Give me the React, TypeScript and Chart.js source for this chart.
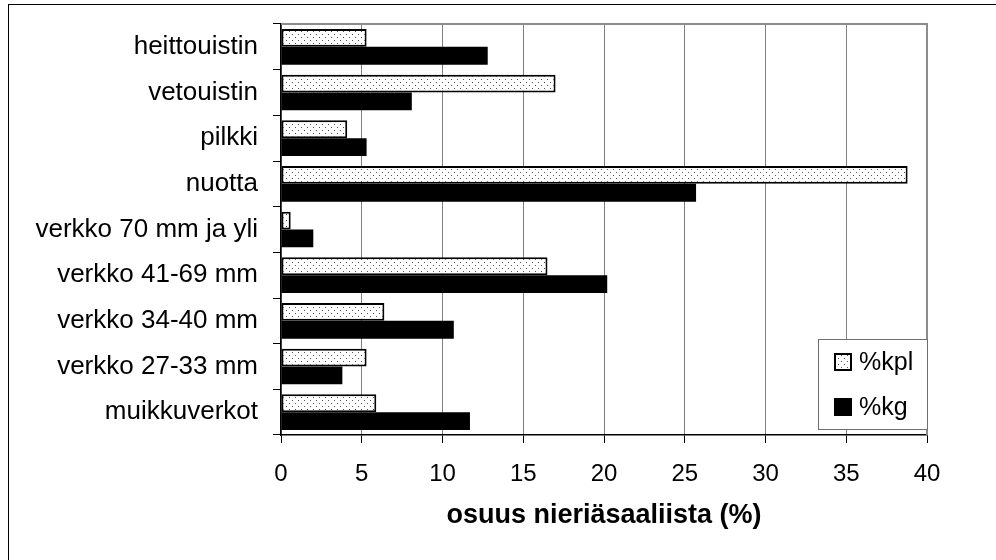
import React, { useEffect, useRef } from 'react';
import { Chart, registerables } from 'chart.js';

Chart.register(...registerables);

const categories = [
  'heittouistin',
  'vetouistin',
  'pilkki',
  'nuotta',
  'verkko 70 mm ja yli',
  'verkko 41-69 mm',
  'verkko 34-40 mm',
  'verkko 27-33 mm',
  'muikkuverkot',
];
const pctKpl = [5.3, 17.0, 4.1, 38.8, 0.6, 16.5, 6.4, 5.3, 5.9];
const pctKg = [12.8, 8.1, 5.3, 25.7, 2.0, 20.2, 10.7, 3.8, 11.7];
const seriesLabels = ['%kpl', '%kg'];
const xMin = 0;
const xMax = 40;
const xStep = 5;
const axisTitle = 'osuus nieriäsaaliista (%)';

const FAMILY = "'Liberation Sans', Arial, Helvetica, sans-serif";

function makeDotPattern(): CanvasPattern | string {
  const c = document.createElement('canvas');
  c.width = 6;
  c.height = 6;
  const g = c.getContext('2d');
  if (!g) return '#fff';
  g.fillStyle = '#fff';
  g.fillRect(0, 0, 6, 6);
  g.fillStyle = '#555';
  g.fillRect(1, 1, 1, 1);
  g.fillRect(4, 4, 1, 1);
  return g.createPattern(c, 'repeat') || '#fff';
}

export default function App() {
  const ref = useRef<HTMLCanvasElement | null>(null);

  useEffect(() => {
    const canvas = ref.current;
    if (!canvas) return;
    const pattern = makeDotPattern();

    const framePlugin = {
      id: 'frameAndLegend',
      beforeDraw(chart: any) {
        const { ctx, width, height } = chart;
        ctx.save();
        ctx.fillStyle = '#fff';
        ctx.fillRect(0, 0, width, height);
        ctx.strokeStyle = '#000';
        ctx.lineWidth = 1;
        ctx.strokeRect(8.5, 4.5, width + 20, height + 20);
        ctx.restore();
      },
      afterDraw(chart: any) {
        const { ctx, chartArea } = chart;
        ctx.save();
        // plot area top & right border
        ctx.strokeStyle = '#8c8c8c';
        ctx.lineWidth = 2;
        ctx.beginPath();
        ctx.moveTo(chartArea.left, chartArea.top);
        ctx.lineTo(chartArea.right, chartArea.top);
        ctx.lineTo(chartArea.right, chartArea.bottom);
        ctx.stroke();

        // legend
        const bw = 110;
        const bh = 91;
        const bx = chartArea.right - 109;
        const by = chartArea.bottom - 96;
        ctx.fillStyle = '#fff';
        ctx.fillRect(bx, by, bw, bh);
        ctx.strokeStyle = '#6e6e6e';
        ctx.lineWidth = 1;
        ctx.strokeRect(bx + 0.5, by + 0.5, bw - 1, bh - 1);

        const ds = chart.data.datasets;
        const sx = bx + 16;
        const rows = [by + 14, by + 59];
        ctx.font = `25px ${FAMILY}`;
        ctx.textBaseline = 'middle';
        ctx.textAlign = 'left';
        ds.forEach((d: any, i: number) => {
          const sy = rows[i];
          if (i === 0) {
            ctx.fillStyle = d.backgroundColor;
            ctx.fillRect(sx, sy, 18, 18);
            ctx.strokeStyle = '#000';
            ctx.lineWidth = 2;
            ctx.strokeRect(sx + 1, sy + 1, 16, 16);
          } else {
            ctx.fillStyle = '#000';
            ctx.fillRect(sx, sy, 18, 18);
          }
          ctx.fillStyle = '#000';
          ctx.fillText(d.label, sx + 25, sy + 10);
        });
        ctx.restore();
      },
    };

    const chart = new Chart(canvas, {
      type: 'bar',
      data: {
        labels: categories,
        datasets: [
          {
            label: seriesLabels[0],
            data: pctKpl,
            backgroundColor: pattern as any,
            borderColor: '#000',
            borderWidth: 2,
            borderSkipped: false,
            categoryPercentage: 0.78,
            barPercentage: 1,
          },
          {
            label: seriesLabels[1],
            data: pctKg,
            backgroundColor: '#000',
            borderWidth: 0,
            categoryPercentage: 0.78,
            barPercentage: 1,
          },
        ],
      },
      options: {
        indexAxis: 'y',
        responsive: false,
        animation: false,
        devicePixelRatio: 1,
        layout: { padding: { left: 0, top: 24, right: 69, bottom: 0 } },
        plugins: {
          legend: { display: false },
          tooltip: { enabled: false },
        },
        scales: {
          x: {
            min: xMin,
            max: xMax,
            ticks: {
              stepSize: xStep,
              color: '#000',
              font: { size: 24, family: FAMILY },
              padding: 17,
              maxRotation: 0,
            },
            grid: {
              color: '#808080',
              lineWidth: 1,
              tickColor: '#000',
              tickLength: 8,
            },
            border: { color: '#000', width: 1.5 },
            title: {
              display: true,
              text: axisTitle,
              color: '#000',
              font: { size: 27, weight: 'bold', family: FAMILY },
              padding: { top: 0, bottom: 28 },
            },
            afterFit: (s: any) => {
              s.height = 125;
              s.paddingLeft = 0;
              s.paddingRight = 0;
            },
          },
          y: {
            ticks: {
              color: '#000',
              font: { size: 26, family: FAMILY },
              padding: 15,
            },
            grid: {
              drawOnChartArea: false,
              tickColor: '#000',
              tickLength: 8,
              offset: true,
            },
            border: { color: '#000', width: 1.5 },
            afterFit: (s: any) => {
              s.width = 281;
              s.paddingTop = 0;
              s.paddingBottom = 0;
            },
          },
        },
      },
      plugins: [framePlugin],
    });

    return () => {
      chart.destroy();
    };
  }, []);

  return (
    <div style={{ position: 'absolute', left: 0, top: 0, width: 996, height: 560 }}>
      <canvas ref={ref} width={996} height={560} style={{ display: 'block' }} />
    </div>
  );
}
